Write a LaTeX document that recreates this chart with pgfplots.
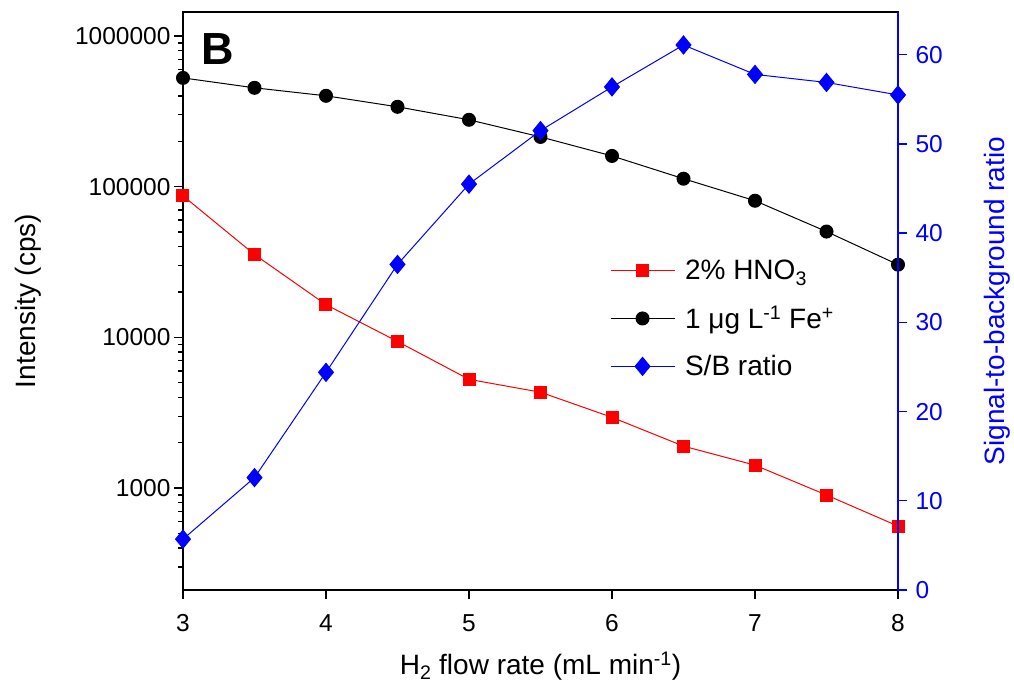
\documentclass[border=0pt]{standalone}
\usepackage{pgfplots}
\pgfplotsset{compat=1.18}
\usepackage{fontspec}
\setmainfont{Liberation Sans}
\definecolor{myred}{RGB}{255,0,0}
\definecolor{myblue}{RGB}{0,0,255}

\pgfplotstableread{
x    hno3    fe
3    87000   527000
3.5  35500   453000
4    16500   401000
4.5  9400    339000
5    5270    278000
5.5  4330    214000
6    2950    160000
6.5  1900    113000
7    1420    80700
7.5  900     50400
8    560     30400
}\intdata

\pgfplotstableread{
x    sb
3    5.7
3.5  12.6
4    24.4
4.5  36.5
5    45.5
5.5  51.5
6    56.4
6.5  61.1
7    57.8
7.5  56.9
8    55.5
}\sbdata

\begin{document}
\begin{tikzpicture}
\pgfplotsset{
  every axis/.append style={
    scale only axis, width=715pt, height=578pt, xmin=3, xmax=8,
    /pgf/number format/assume math mode=true,
    tick label style={font=\fontsize{24.5}{28}\selectfont},
    label style={font=\fontsize{28}{32}\selectfont},
    tick align=outside,
    major tick length=9pt, minor tick length=5pt,
  },
  legend image code/.code={
    \draw[mark repeat=2,mark phase=2] plot coordinates {(0pt,0pt) (32pt,0pt) (64pt,0pt)};
  },
}
\begin{axis}[
  ymode=log, ymin=211, ymax=1.443e6,
  axis line style={line width=1.6pt},
  every tick/.style={line width=1.4pt, black},
  xtick={3,4,5,6,7,8}, xtick pos=bottom, ytick pos=left,
  x tick label style={yshift=-12pt},
  ytick={1000,10000,100000,1000000},
  yticklabels={1000,10000,100000,1000000},
  minor ytick={300,400,500,600,700,800,900,2000,3000,4000,5000,6000,7000,8000,9000,20000,30000,40000,50000,60000,70000,80000,90000,200000,300000,400000,500000,600000,700000,800000,900000},
  xlabel={H\textsubscript{2} flow rate (mL min\textsuperscript{-1})},
  xlabel style={at={(axis description cs:0.5,0)}, yshift=-76pt, anchor=center},
  ylabel={Intensity (cps)},
  ylabel style={at={(axis description cs:-0.217,0.5)}, anchor=center},
  clip=false,
]
\addplot[myred, line width=1pt, mark=square*, mark size=6pt, mark options={solid, fill=myred}] table[x=x, y=hno3] {\intdata};
\addplot[black, line width=1pt, mark=*, mark size=6.5pt, mark options={solid, fill=black}] table[x=x, y=fe] {\intdata};
\node[font=\bfseries\fontsize{45}{50}\selectfont, anchor=center] at (axis description cs:0.049,0.936) {B};
\end{axis}
\begin{axis}[
  ymin=0, ymax=64.8,
  axis x line=none, axis y line*=right,
  axis line style={line width=1.6pt, myblue, -},
  every tick/.style={line width=1.4pt, myblue},
  ytick={0,10,20,30,40,50,60}, ytick pos=right, yticklabel pos=right,
  y tick label style={myblue, xshift=5pt},
  ylabel={Signal-to-background ratio},
  ylabel style={myblue, at={(axis description cs:1.1385,0.5)}, anchor=center},
  legend style={draw=none, fill=none, at={(axis description cs:0.597,0.574)}, anchor=north west,
    font=\fontsize{28}{32}\selectfont, row sep=21pt, column sep=8pt, inner sep=0pt,
    legend cell align=left},
  clip=false,
]
\addlegendimage{myred, line width=1pt, mark=square*, mark size=6pt, mark options={solid, fill=myred}}
\addlegendentry{2\% HNO\textsubscript{3}}
\addlegendimage{black, line width=1pt, mark=*, mark size=6.5pt, mark options={solid, fill=black}}
\addlegendentry{1 μg L\textsuperscript{-1} Fe\textsuperscript{+}}
\addplot[myblue, line width=1pt, mark=diamond*, mark size=9pt, mark options={solid, fill=myblue, xscale=1.1}] table[x=x, y=sb] {\sbdata};
\addlegendentry{S/B ratio}
\end{axis}
\pgfresetboundingbox
\path[use as bounding box] (-183pt,-102pt) rectangle (831pt,590pt);
\end{tikzpicture}
\end{document}
